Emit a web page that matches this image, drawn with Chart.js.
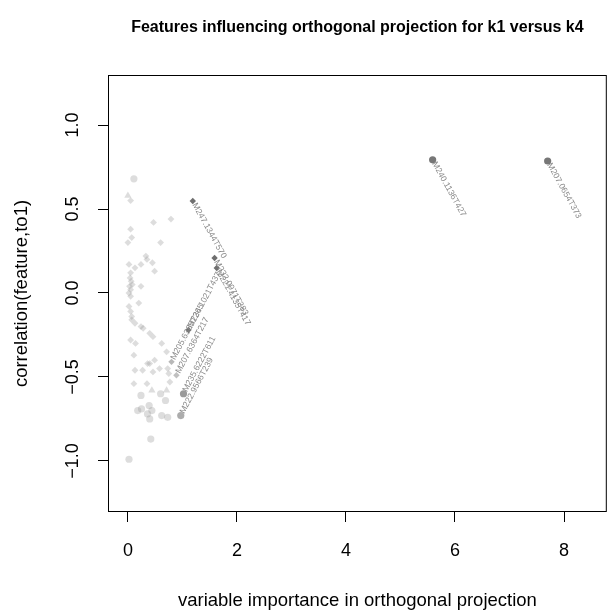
<!DOCTYPE html>
<html>
<head>
<meta charset="utf-8">
<script src="https://cdn.jsdelivr.net/npm/chart.js@4.4.1/dist/chart.umd.min.js"></script>
<style>
  body { margin: 0; background: #ffffff; }
  canvas { display: block; }
</style>
</head>
<body>
<canvas id="chart" width="611" height="613"></canvas>
<script>
// labelled features (name, importance, correlation)
const featureNames = ["M247.1344T570", "M232.0971T383", "M221.4135T417", "M240.1136T427", "M207.0654T373",
  "M234.1021T437", "M205.6385T265", "M207.6364T217", "M235.6222T611", "M222.9566T239"];
const featureImportance = [1.19, 1.59, 1.63, 5.59, 7.70, 1.11, 0.80, 0.89, 1.02, 0.97];
const featureCorr = [0.548, 0.208, 0.149, 0.793, 0.786, -0.22, -0.41, -0.49, -0.60, -0.73];

// other features, split by marker
const circleX = [0.11, 0.24, 0.60, 0.69, 0.18, 0.25, 0.39, 0.44, 0.36, 0.40, 0.62, 0.73, 0.42, 0.02];
const circleY = [0.68, -0.61, -0.60, -0.64, -0.70, -0.69, -0.67, -0.70, -0.72, -0.75, -0.73, -0.74, -0.87, -0.99];

const triangleX = [0.00, 0.44, 0.71];
const triangleY = [0.58, -0.58, -0.58];

const diamondX = [0.05, 0.47, 0.79, 0.05, 0.07, 0.00, 0.60, 0.33, 0.35, 0.45, 0.24, 0.02, 0.49, 0.13, 0.05,
  0.04, 0.06, 0.08, 0.03, 0.05, 0.24, 0.02, 0.05, 0.20, 0.02, 0.05, 0.07, 0.07, 0.13, 0.24, 0.28, 0.40,
  0.46, 0.05, 0.14, 0.62, 0.71, 0.11, 0.49, 0.40, 0.36, 0.58, 0.73, 0.13, 0.27, 0.46, 0.75, 0.11, 0.35, 0.77];
const diamondY = [0.55, 0.42, 0.44, 0.38, 0.33, 0.30, 0.30, 0.22, 0.20, 0.18, 0.17, 0.17, 0.13, 0.15, 0.12,
  0.09, 0.07, 0.05, 0.04, 0.02, 0.04, 0.00, -0.02, -0.06, -0.08, -0.11, -0.14, -0.16, -0.18, -0.20, -0.21, -0.24,
  -0.26, -0.28, -0.30, -0.30, -0.35, -0.37, -0.40, -0.42, -0.42, -0.45, -0.45, -0.46, -0.46, -0.47, -0.48, -0.54, -0.54, -0.53];

const xTicks = [0, 2, 4, 6, 8];
const yTicks = [-1, -0.5, 0, 0.5, 1];

function toPoints(xs, ys) {
  return xs.map((x, i) => ({ x: x, y: ys[i] }));
}

const light = "rgba(150,150,150,0.32)";

Chart.defaults.font.family = '"Liberation Sans", Arial, sans-serif';
Chart.defaults.color = "#000000";

// title, box and point labels
const extras = {
  id: "extras",
  afterDatasetsDraw(chart) {
    const ctx = chart.ctx;
    const meta = chart.getDatasetMeta(3);
    ctx.save();
    ctx.font = '8.5px "Liberation Sans", Arial, sans-serif';
    ctx.fillStyle = "#8a8a8a";
    ctx.textBaseline = "middle";
    ctx.textAlign = "left";
    meta.data.forEach((pt, i) => {
      const ang = featureCorr[i] >= 0 ? 61 : -62;
      ctx.save();
      ctx.translate(pt.x, pt.y);
      ctx.rotate(ang * Math.PI / 180);
      ctx.fillText(featureNames[i], 3, 0);
      ctx.restore();
    });
    ctx.restore();
  },
  afterDraw(chart) {
    const ctx = chart.ctx;
    const a = chart.chartArea;
    ctx.save();
    ctx.strokeStyle = "#000000";
    ctx.lineWidth = 1;
    ctx.strokeRect(a.left + 0.5, a.top + 0.5, a.right - a.left - 1, a.bottom - a.top - 1);
    ctx.font = 'bold 16px "Liberation Sans", Arial, sans-serif';
    ctx.fillStyle = "#000000";
    ctx.textAlign = "center";
    ctx.textBaseline = "middle";
    ctx.fillText("Features influencing orthogonal projection for k1 versus k4", (a.left + a.right) / 2, 28);
    ctx.restore();
  }
};

new Chart(document.getElementById("chart"), {
  type: "scatter",
  plugins: [extras],
  data: {
    datasets: [
      {
        data: toPoints(circleX, circleY),
        pointStyle: "circle",
        pointRadius: 3.6,
        backgroundColor: light,
        borderWidth: 0
      },
      {
        data: toPoints(diamondX, diamondY),
        pointStyle: "rectRot",
        pointRadius: 3.4,
        backgroundColor: light,
        borderWidth: 0
      },
      {
        data: toPoints(triangleX, triangleY),
        pointStyle: "triangle",
        pointRadius: 4.2,
        backgroundColor: light,
        borderWidth: 0
      },
      {
        data: toPoints(featureImportance, featureCorr),
        pointStyle: ["rectRot", "rectRot", "rectRot", "circle", "circle", "rectRot", "rectRot", "rectRot", "circle", "circle"],
        pointRadius: [3.2, 3.2, 3.2, 3.6, 3.6, 3.2, 3.2, 3.2, 3.6, 3.6],
        backgroundColor: ["#6f6f6f", "#6f6f6f", "#6f6f6f", "#777777", "#777777", "#707070", "#b8b8b8", "#c0c0c0", "#9a9a9a", "#acacac"],
        borderWidth: 0
      }
    ]
  },
  options: {
    responsive: false,
    animation: false,
    layout: { padding: { top: 75, right: -0.2, left: 0, bottom: 0 } },
    plugins: {
      legend: { display: false },
      tooltip: { enabled: false }
    },
    scales: {
      x: {
        type: "linear",
        min: -0.365,
        max: 8.785,
        afterFit: (s) => { s.height = 101; s.paddingRight = 0; s.paddingLeft = 0; },
        afterBuildTicks: (s) => { s.ticks = xTicks.map(v => ({ value: v })); },
        grid: { drawOnChartArea: false, drawTicks: true, tickLength: 10, color: "#000000" },
        border: { display: false },
        ticks: {
          padding: 18,
          font: { size: 18 },
          color: "#000000",
          maxRotation: 0,
          callback: (v) => v.toFixed(0)
        },
        title: {
          display: true,
          text: "variable importance in orthogonal projection",
          font: { size: 18.5 },
          color: "#000000",
          padding: { top: 0, bottom: 1 }
        }
      },
      y: {
        type: "linear",
        min: -1.304,
        max: 1.298,
        afterFit: (s) => { s.width = 108; s.paddingTop = 0; s.paddingBottom = 0; },
        afterBuildTicks: (s) => { s.ticks = yTicks.map(v => ({ value: v })); },
        grid: { drawOnChartArea: false, drawTicks: true, tickLength: 10, color: "#000000" },
        border: { display: false },
        ticks: {
          padding: 7,
          font: { size: 18 },
          color: "#000000",
          minRotation: 90,
          maxRotation: 90,
          crossAlign: "center",
          callback: (v) => v.toFixed(1).replace("-", "\u2212")
        },
        title: {
          display: true,
          text: "correlation(feature,to1)",
          font: { size: 18.5 },
          color: "#000000",
          padding: { top: 11, bottom: 0 }
        }
      }
    }
  }
});
</script>
</body>
</html>
